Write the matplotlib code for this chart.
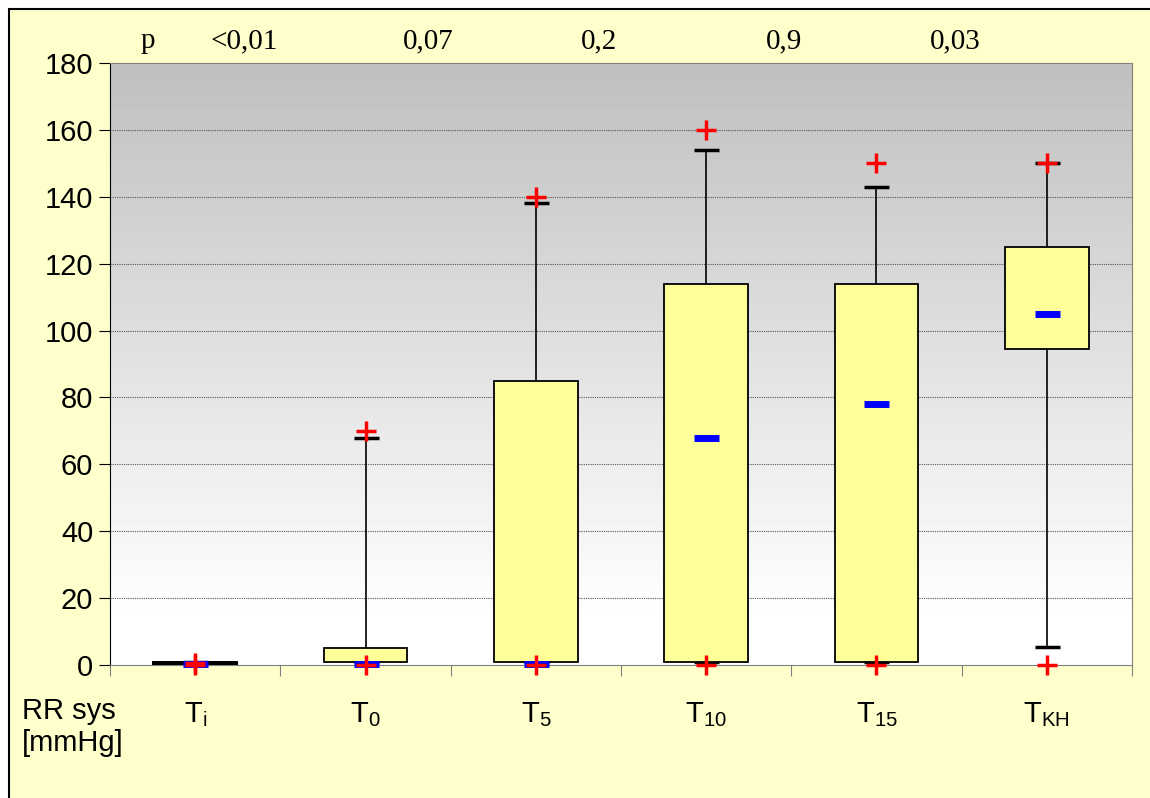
import numpy as np
import matplotlib
matplotlib.use('Agg')
import matplotlib.pyplot as plt
from matplotlib.patches import Rectangle

plt.rcParams['font.family'] = ['Liberation Sans', 'DejaVu Sans']
plt.rcParams['mathtext.default'] = 'regular'

# Blutdruck-Zeitpunkte und Kennwerte (Boxplot)
labels = ['T$_{i}$', 'T$_{0}$', 'T$_{5}$', 'T$_{10}$', 'T$_{15}$', 'T$_{KH}$']
q1 = [0.1, 1, 1, 1, 1, 94.5]
q3 = [0.9, 5, 85, 114, 114, 125]
median = [0.4, 0.3, 0.3, 68, 78, 105]
whisk_lo = [0.1, 1, 1, 1, 1, 5.5]
whisk_hi = [0.9, 68, 138, 154, 143, 150]
vmin = [0, 0, 0, 0, 0, 0]
vmax = [0.5, 70, 140, 160, 150, 150]
p_labels = ['<0,01', '0,07', '0,2', '0,9', '0,03']
p_pos = [0.29, 1.37, 2.37, 3.46, 4.46]

x = np.arange(len(labels))

fig = plt.figure(figsize=(11.5, 7.98), dpi=100, facecolor='white')
# gelber Hintergrund mit Rahmen
fig.patches.append(Rectangle((9 / 1150, -0.01), 1.02, 1 - 9 / 798 + 0.01,
                             transform=fig.transFigure, facecolor='#FFFFCC',
                             edgecolor='black', linewidth=1.5, zorder=-10))

ax = fig.add_axes([110 / 1150, 133 / 798, 1022 / 1150, 602 / 798])
ax.set_xlim(-0.5, len(labels) - 0.5)
ax.set_ylim(0, 180)

# grauer Verlauf oben -> weiss unten
yy = np.linspace(180, 0, 300)
shade = np.clip(0.75 + (180 - yy) / (180 - 14) * 0.25, 0, 1)
shade[yy < 14] = 1.0
grad = np.repeat(shade[:, None], 2, axis=1)
ax.imshow(grad, cmap='gray', vmin=0, vmax=1, aspect='auto',
          extent=(-0.5, len(labels) - 0.5, 0, 180), zorder=0, interpolation='nearest')

for gy in range(20, 180, 20):
    ax.axhline(gy, color='#555555', linestyle=(0, (1, 1)), linewidth=0.8, zorder=1)

# Whisker
ax.vlines(x, q3, whisk_hi, color='black', linewidth=1.2, zorder=2)
ax.vlines(x, whisk_lo, q1, color='black', linewidth=1.2, zorder=2)
ax.plot(x, whisk_hi, linestyle='none', marker='_', markersize=18, mew=2.5, color='black', zorder=3)
ax.plot(x, whisk_lo, linestyle='none', marker='_', markersize=18, mew=2.5, color='black', zorder=3)

# Boxen
ax.bar(x, np.array(q3) - np.array(q1), bottom=q1, width=0.49, color='#FFFF99',
       edgecolor='black', linewidth=1.3, zorder=4)
# T_i: Box praktisch auf null -> schwarzer Balken
ax.bar(x[0], q3[0] - q1[0], bottom=q1[0], width=0.49, color='black',
       edgecolor='black', linewidth=1.3, zorder=4)

# Median, Min, Max
ax.plot(x, median, linestyle='none', marker='_', markersize=18, mew=5, color='#0000FF', zorder=5, clip_on=False)
ax.plot(x, vmax, linestyle='none', marker='+', markersize=15, mew=2.5, color='#FF0000', zorder=6, clip_on=False)
ax.plot(x, vmin, linestyle='none', marker='+', markersize=15, mew=2.5, color='#FF0000', zorder=6, clip_on=False)

# Achsen
for side in ['top', 'right']:
    ax.spines[side].set_color('#808080')
ax.spines['left'].set_color('black')
ax.spines['bottom'].set_color('#808080')
ax.spines['bottom'].set_zorder(3)

ax.set_yticks(range(0, 181, 20))
ax.tick_params(axis='y', labelsize=21, length=8, color='black', pad=4)
ax.set_xticks(np.arange(-0.5, len(labels), 1))
ax.set_xticklabels([])
ax.tick_params(axis='x', which='major', length=8, color='#808080', direction='out')
ax.set_xticks(x, minor=True)
ax.set_xticklabels(labels, minor=True, fontsize=21)
ax.tick_params(axis='x', which='minor', length=0, pad=25)

# p-Werte
ax.text(-0.28, 184.5, 'p', fontsize=21, family='Liberation Serif', ha='center', va='baseline')
for px, pl in zip(p_pos, p_labels):
    ax.text(px, 184.5, pl, fontsize=21, family='Liberation Serif', ha='center', va='baseline')

fig.text(22 / 1150, 1 - 697 / 798, 'RR sys\n[mmHg]', fontsize=21, ha='left', va='top',
         linespacing=1.2)

fig.savefig('out.png', dpi=100, facecolor=fig.get_facecolor())
